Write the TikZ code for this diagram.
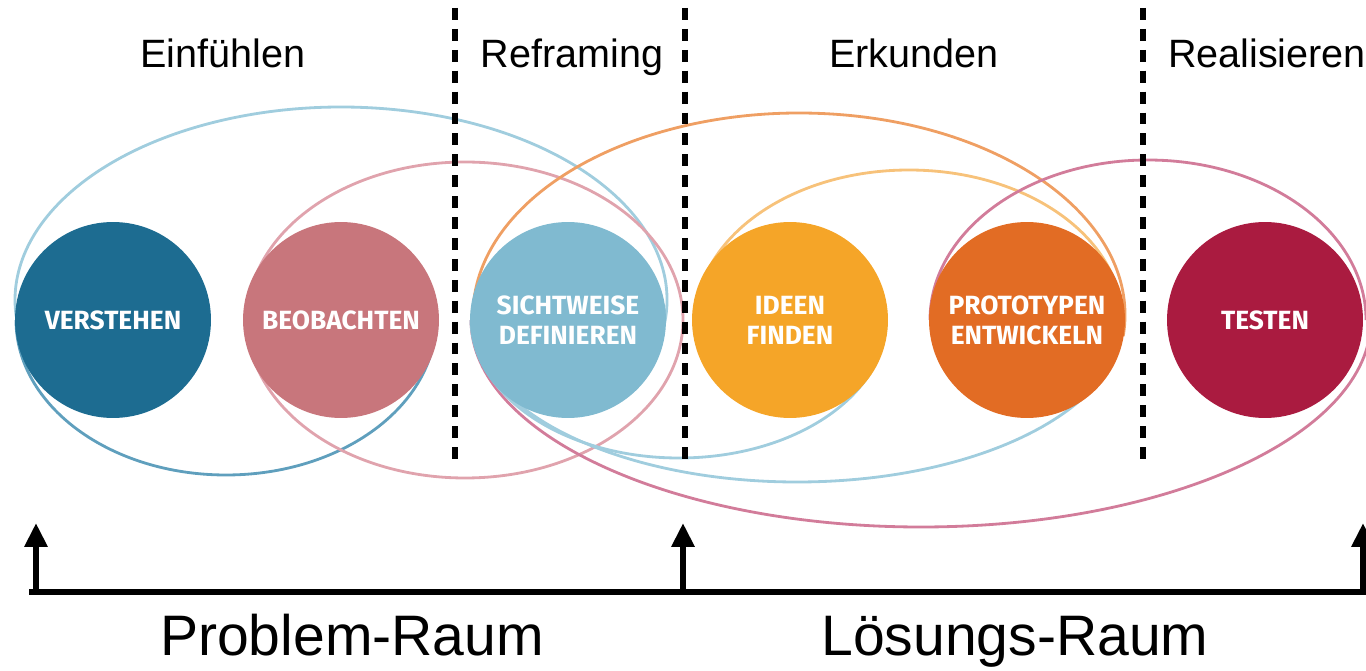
\documentclass[tikz,border=0pt]{standalone}
\usepackage{fontspec}
\setmainfont{Liberation Sans}
\newfontfamily\stepfont{Fira Sans}
\usetikzlibrary{arrows.meta,positioning}
\definecolor{cVerstehen}{RGB}{29,108,145}
\definecolor{cBeobachten}{RGB}{200,118,124}
\definecolor{cSichtweise}{RGB}{128,186,208}
\definecolor{cIdeen}{RGB}{245,165,40}
\definecolor{cPrototypen}{RGB}{226,108,36}
\definecolor{cTesten}{RGB}{170,27,64}
\definecolor{lBlue}{RGB}{160,205,222}
\definecolor{lTeal}{RGB}{95,159,189}
\definecolor{lPink}{RGB}{224,163,173}
\definecolor{lOrange}{RGB}{239,159,99}
\definecolor{lYellow}{RGB}{247,194,122}
\definecolor{lMagenta}{RGB}{210,124,154}
\tikzset{%
    phase/.style={%
        circle, minimum size=3.92cm, inner sep=0pt, text=white, align=center,
        font=\stepfont\bfseries\fontsize{15}{17}\selectfont
    },
    stage/.style={%
        anchor=base, font=\fontsize{22.5}{25}\selectfont
    },
    space/.style={%
        anchor=base, font=\fontsize{32.5}{36}\selectfont
    },
    ring/.style={%
        line width=1.6pt
    },
    divider/.style={%
        line width=3.1pt, dash pattern=on 6.8pt off 5.1pt
    },
    axisline/.style={%
        line width=3.4pt
    },
    uparrow/.style={%
        line width=3.4pt, -{Triangle[length=13.6pt,width=12.5pt]}
    },
}
\begin{document}
\begin{tikzpicture}[x=0.02cm,y=0.02cm]
      \useasboundingbox (0,0) rectangle (1366,670);

      \draw[ring, lBlue] (341,370) ++(-8:326 and 193) arc[start angle=-8, end angle=185, x radius=326, y radius=193];
      \draw[ring, lTeal] (226,350) ++(180:210 and 155) arc[start angle=180, end angle=360, x radius=210, y radius=155];
      \draw[ring, lPink] (465,350) ellipse[x radius=218, y radius=158];
      \draw[ring, lOrange] (799,355) ++(-6:326 and 202) arc[start angle=-6, end angle=180, x radius=326, y radius=202];
      \draw[ring, lYellow] (909,350) ++(0:213 and 150) arc[start angle=0, end angle=180, x radius=213, y radius=150];
      \draw[ring, lMagenta] (1148,350) ++(0:218 and 160) arc[start angle=0, end angle=180, x radius=218, y radius=160];
      \draw[ring, lMagenta] (921,350) ++(180:450 and 207) arc[start angle=180, end angle=360, x radius=450, y radius=207];
      \draw[ring, lBlue] (679,350) ++(180:207 and 138) arc[start angle=180, end angle=360, x radius=207, y radius=138];
      \draw[ring, lBlue] (797,350) ++(180:326 and 162) arc[start angle=180, end angle=360, x radius=326, y radius=162];

      \node[phase, fill=cVerstehen] (verstehen) at (113,350) {VERSTEHEN};
      \node[phase, fill=cBeobachten] (beobachten) at (341,350) {BEOBACHTEN};
      \node[phase, fill=cSichtweise] (sichtweise) at (568,350) {SICHTWEISE\\DEFINIEREN};
      \node[phase, fill=cIdeen] (ideen) at (790,350) {IDEEN\\FINDEN};
      \node[phase, fill=cPrototypen] (prototypen) at (1027,350) {PROTOTYPEN\\ENTWICKELN};
      \node[phase, fill=cTesten] (testen) at (1265,350) {TESTEN};

      \foreach \x in {455,685,1143}
        \draw[divider] (\x,662) -- (\x,203);

      \node[stage] (einfuehlen) at (223,602) {Einfühlen};
      \node[stage] (reframing) at (572,602) {Reframing};
      \node[stage] (erkunden) at (914,602) {Erkunden};
      \node[stage] (realisieren) at (1267,602) {Realisieren};

      \coordinate (pstart) at (36,78);
      \coordinate (lstart) at (683,78);
      \coordinate (lend) at (1363,78);
      \coordinate (ptip) at (36,147);
      \coordinate (ltip) at (683,147);
      \coordinate (etip) at (1363,147);
      \draw[axisline] (29,78) -- (1366,78);
      \draw[uparrow] (pstart) -- (ptip);
      \draw[uparrow] (lstart) -- (ltip);
      \draw[uparrow] (lend) -- (etip);

      \node[space] (problem) at (352,15) {Problem-Raum};
      \node[space] (loesung) at (1015,15) {Lösungs-Raum};
\end{tikzpicture}
\end{document}
